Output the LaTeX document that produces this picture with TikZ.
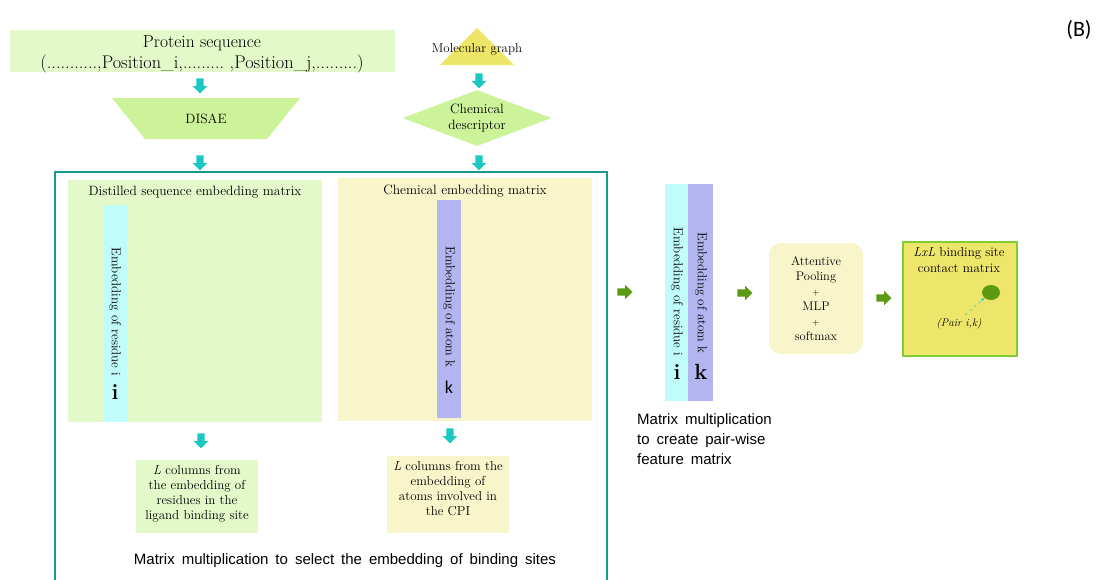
\documentclass[tikz,border=0pt]{standalone}
\usepackage{fontspec}
\newfontfamily\arialfont{Liberation Sans}
\newfontfamily\calibrifont{Carlito}
\usetikzlibrary{positioning,shapes.geometric,shapes.arrows,arrows.meta}
\definecolor{seqgreen}{HTML}{E3F9CA}
\definecolor{disaegreen}{HTML}{CDF39A}
\definecolor{molyellow}{HTML}{EDE568}
\definecolor{chemyellow}{HTML}{F8F5CA}
\definecolor{resicyan}{HTML}{BFFCFA}
\definecolor{atomblue}{HTML}{B3B5F0}
\definecolor{arrowcyan}{HTML}{1CC8C2}
\definecolor{arrowgreen}{HTML}{5B9A12}
\definecolor{frameteal}{HTML}{17998E}
\definecolor{contactyellow}{HTML}{EEE66A}
\definecolor{contactgreen}{HTML}{80CC33}
\newcommand{\lblfont}{\fontsize{13.5}{15}\selectfont}
\newcommand{\boxfont}{\fontsize{13}{15}\selectfont}
\newcommand{\widesans}{\arialfont\fontsize{15}{20}\selectfont\spaceskip=7pt plus 1pt\relax}
\newcommand{\pdots}{...}
\tikzset{
  downarrow/.style={single arrow, fill=arrowcyan, rotate=-90, inner sep=3.5pt,
    single arrow head extend=3.5pt, minimum height=15pt},
  rightarrow/.style={single arrow, fill=arrowgreen, inner sep=3.5pt,
    single arrow head extend=3.5pt, minimum height=15pt},
  plainbox/.style={inner sep=0pt, anchor=north west},
  striplabel/.style={rotate=-90, font=\fontsize{13}{15}\selectfont},
  sanstext/.style={font=\widesans}
}
\begin{document}
\begin{tikzpicture}[x=1pt,y=-1pt]
\useasboundingbox (0,0) rectangle (1102,579);
% inputs
\node[plainbox, fill=seqgreen, minimum width=385pt, minimum height=42pt] (seqbox) at (10,30) {};
\node[align=center, font=\fontsize{17.5}{21}\selectfont] (seqtext) at (202,54.5) {Protein sequence\\{\fontsize{18.3}{21}\selectfont(\pdots\pdots\pdots..,Position\_i,\pdots\pdots\pdots\ ,Position\_j,\pdots\pdots\pdots)}};
\fill[molyellow] (477,28) -- (514,65) -- (440,65) -- cycle;
\node[font=\fontsize{12.9}{14}\selectfont] (molgraph) at (477,49) {Molecular graph};
\node[downarrow] (arrA) at (200,84) {};
\node[downarrow] (arrB) at (479,79) {};
\fill[disaegreen] (112,98) -- (300,98) -- (267,139) -- (145,139) -- cycle;
\node[font=\fontsize{13.5}{15}\selectfont] (disae) at (206,119) {DISAE};
\node[diamond, aspect=2.66, fill=disaegreen, minimum width=149pt, minimum height=56pt,
  inner sep=0pt, align=center, font=\fontsize{13.5}{16}\selectfont] (chemdesc) at (477,118) {Chemical\\descriptor};
\node[downarrow] (arrC) at (200,161) {};
\node[downarrow] (arrD) at (479,161) {};
% selection frame
\draw[frameteal, line width=2pt] (55,172) rectangle (607,600);
\node[plainbox, fill=seqgreen, minimum width=254pt, minimum height=242pt] (seqmat) at (68,180) {};
\node[font=\lblfont] (seqtitle) at (195,192) {Distilled sequence embedding matrix};
\node[plainbox, fill=resicyan, minimum width=24pt, minimum height=217pt] (resstrip) at (103,205) {};
\node[striplabel] (reslabel) at (115,312) {Embedding of residue i};
\node[font=\bfseries\fontsize{22}{22}\selectfont] (resi) at (115,392) {i};
\node[plainbox, fill=chemyellow, minimum width=254pt, minimum height=243pt] (chemmat) at (338,178) {};
\node[font=\lblfont] (chemtitle) at (465,191) {Chemical embedding matrix};
\node[plainbox, fill=atomblue, minimum width=24pt, minimum height=218pt] (atomstrip) at (437,200) {};
\node[striplabel] (atomlabel) at (449,307) {Embedding of atom k};
\node[font=\calibrifont\fontsize{18}{18}\selectfont] (atomk) at (449,387) {k};
\node[downarrow] (arrE) at (201,439) {};
\node[downarrow] (arrF) at (450,434) {};
\node[plainbox, fill=seqgreen, minimum width=122pt, minimum height=73pt] (rescols) at (136,460) {};
\node[align=center, font=\boxfont] (restext) at (197,494) {\textit{L} columns from\\the embedding of\\residues in the\\ligand binding site};
\node[plainbox, fill=chemyellow, minimum width=122pt, minimum height=77pt] (atomcols) at (387,456) {};
\node[align=center, font=\boxfont] (atomtext) at (448,489) {\textit{L} columns from the\\embedding of\\atoms involved in\\the CPI};
\node[sanstext] (selecttext) at (345,561) {Matrix multiplication to select the embedding of binding sites};
% pair-wise features
\node[rightarrow] (arrG) at (623,292) {};
\node[plainbox, fill=resicyan, minimum width=23pt, minimum height=217pt] (pairres) at (665,184) {};
\node[plainbox, fill=atomblue, minimum width=25pt, minimum height=217pt] (pairatom) at (688,184) {};
\node[striplabel] (pairreslabel) at (677,292) {Embedding of residue i};
\node[striplabel] (pairatomlabel) at (701,293) {Embedding of atom k};
\node[font=\bfseries\fontsize{22}{22}\selectfont] (pairi) at (677,372) {i};
\node[font=\bfseries\fontsize{22}{22}\selectfont] (pairk) at (701,372) {k};
\node[sanstext, anchor=north west, align=left, inner sep=0pt] (pairtext) at (637,413) {Matrix multiplication\\to create pair-wise\\feature matrix};
\node[rightarrow] (arrH) at (743,293) {};
\node[fill=chemyellow, rounded corners=12pt, minimum width=94pt, minimum height=111pt,
  align=center, font=\fontsize{12.5}{15}\selectfont] (pool) at (816,298.5) {Attentive\\Pooling\\{\fontsize{9}{15}\selectfont +}\\MLP\\{\fontsize{9}{15}\selectfont +}\\softmax};
\node[rightarrow] (arrI) at (882,298) {};
\node[plainbox, fill=contactyellow, draw=contactgreen, line width=1.5pt, minimum width=114pt, minimum height=114pt] (contact) at (902,241) {};
\node[align=center, font=\fontsize{13}{16}\selectfont] (contacttitle) at (959,260) {\textit{LxL} binding site\\contact matrix};
\node[ellipse, fill=arrowgreen, minimum width=18pt, minimum height=15pt, inner sep=0pt] (pairdot) at (991,292.5) {};
\node[font=\itshape\fontsize{11}{13}\selectfont] (pairlabel) at (959,324) {(Pair i,k)};
\draw[arrowcyan, dashed, -{Stealth[length=4pt]}] ([xshift=6pt]pairlabel.north) -- (pairdot.south west);
\node[font=\calibrifont\fontsize{22}{24}\selectfont] (panel) at (1079,30) {(B)};
\end{tikzpicture}
\end{document}
